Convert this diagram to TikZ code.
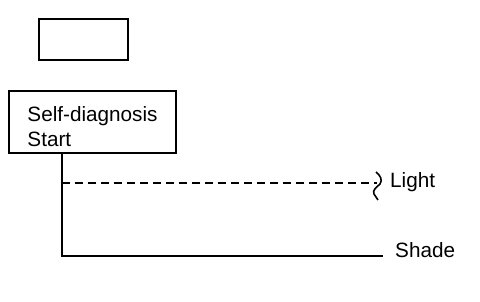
\documentclass[tikz,border=0pt]{standalone}
\usepackage{fontspec}
\setmainfont{Liberation Sans}

\begin{document}
\begin{tikzpicture}[x=1pt, y=-1pt, every node/.style={font=\fontsize{20.7}{25}\selectfont}, box/.style={draw, line width=2.6pt, inner sep=0pt}, wire/.style={line width=2pt}]
	\useasboundingbox (0,0) rectangle (480,302);
	\node[box, minimum width=89pt, minimum height=41pt] (blank) at (83.5,39.5) {};
	\node[box, minimum width=167pt, minimum height=62pt, align=left] (start) at (92.5,122) {\rule{0pt}{25pt}Self-diagnosis\\Start};
	\coordinate (tap) at (62,183.5);
	\coordinate (trunk) at (62,256);
	\coordinate (lightend) at (377,183.5);
	\coordinate (shadeend) at (383,256);
	\node[anchor=base west, inner sep=0pt] (light) at (390,188) {Light};
	\node[anchor=base west, inner sep=0pt] (shade) at (395,258) {Shade};
	\draw[wire] (start.south -| trunk) -- (trunk) -- (shadeend);
	\draw[wire, dash pattern=on 8pt off 5pt] (tap) -- (lightend);
	\draw[wire, line width=1.6pt] (376,172) .. controls (380,175) and (383,180) .. (380,184) .. controls (377,187) and (372,190) .. (374,194) .. controls (375,196) and (377,198) .. (378,200);
\end{tikzpicture}
\end{document}
